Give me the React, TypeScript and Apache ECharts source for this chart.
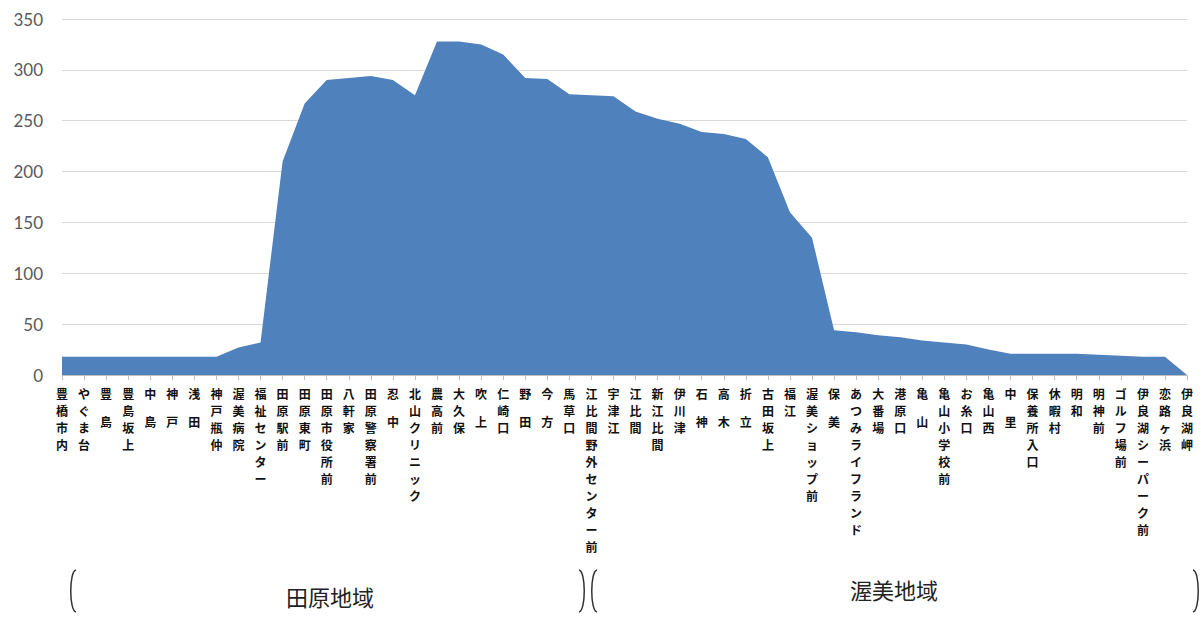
import React, { useEffect, useRef } from "react";
import * as echarts from "echarts";

const stops = [
  "豊橋市内", "やぐま台", "豊　島", "豊島坂上", "中　島", "神　戸", "浅　田", "神戸瓶仲",
  "渥美病院", "福祉センター", "田原駅前", "田原東町", "田原市役所前", "八軒家", "田原警察署前",
  "忍　中", "北山クリニック", "農高前", "大久保", "吹　上", "仁崎口", "野　田", "今　方",
  "馬草口", "江比間野外センター前", "宇津江", "江比間", "新江比間", "伊川津", "石　神",
  "高　木", "折　立", "古田坂上", "福江", "渥美ショップ前", "保　美", "あつみライフランド",
  "大番場", "港原口", "亀　山", "亀山小学校前", "お糸口", "亀山西", "中　里", "保養所入口",
  "休暇村", "明和", "明神前", "ゴルフ場前", "伊良湖シーパーク前", "恋路ヶ浜", "伊良湖岬",
];

const riders = [
  18, 18, 18, 18, 18, 18, 18, 18, 27, 32,
  210, 267, 290, 292, 294, 290, 275, 328, 328, 325,
  315, 292, 291, 276, 275, 274, 259, 252, 247, 239,
  237, 232, 214, 160, 135, 44, 42, 39, 37, 34,
  32, 30, 25, 21, 21, 21, 21, 20, 19, 18,
  18, 0,
];

const yTicks = [0, 50, 100, 150, 200, 250, 300, 350];

const regionLabels = ["田原地域", "渥美地域"];

export default function App() {
  const ref = useRef<HTMLDivElement>(null);
  useEffect(() => {
    if (!ref.current) return;
    const chart = echarts.init(ref.current, null, { renderer: "svg" });
    const bracketStyle = { stroke: "#333", lineWidth: 1.5, fill: "none" };
    const lb = (x: number) => ({
      type: "bezierCurve",
      shape: { x1: x + 6, y1: 570, cpx1: x - 1, cpy1: 571, cpx2: x - 1, cpy2: 611, x2: x + 6, y2: 612 },
      style: bracketStyle,
    });
    const rb = (x: number) => ({
      type: "bezierCurve",
      shape: { x1: x - 6, y1: 570, cpx1: x + 1, cpy1: 571, cpx2: x + 1, cpy2: 611, x2: x - 6, y2: 612 },
      style: bracketStyle,
    });
    chart.setOption({
      animation: false,
      grid: { left: 62, right: 17, top: 19, bottom: 244, containLabel: false },
      xAxis: {
        type: "category",
        data: stops,
        boundaryGap: false,
        axisLine: { show: true, lineStyle: { color: "#bfbfbf", width: 1 } },
        axisTick: { show: true, alignWithLabel: true, length: 5, lineStyle: { color: "#bfbfbf" } },
        axisLabel: {
          interval: 0,
          margin: 10,
          color: "#111",
          fontSize: 12,
          lineHeight: 17,
          fontFamily: "Noto Sans CJK JP",
          fontWeight: "bold",
          verticalAlign: "top",
          formatter: (v: string) =>
            v.split("").map((c) => (c === "　" ? "{s|　}" : c)).join("\n"),
          rich: { s: { fontSize: 8, lineHeight: 11 } },
        },
        splitLine: { show: false },
      },
      yAxis: {
        type: "value",
        min: 0,
        max: 350,
        interval: 50,
        axisLine: { show: false },
        axisTick: { show: false },
        axisLabel: {
          color: "#595959",
          fontSize: 17,
          fontFamily: "Lato, 'Noto Sans', sans-serif",
          margin: 19,
          formatter: (v: number) => (yTicks.includes(v) ? String(v) : ""),
        },
        splitLine: { lineStyle: { color: "#d9d9d9", width: 1 } },
      },
      series: [
        {
          type: "line",
          data: riders,
          symbol: "none",
          lineStyle: { width: 0 },
          areaStyle: { color: "#4f81bd", opacity: 1 },
          itemStyle: { color: "#4f81bd" },
        },
      ],
      graphic: [
        lb(70),
        rb(585),
        lb(591),
        rb(1199),
        {
          type: "text",
          x: 330,
          y: 596,
          style: {
            text: regionLabels[0],
            fontSize: 22,
            fontFamily: "Noto Sans CJK JP",
            fill: "#222",
            align: "center",
            verticalAlign: "middle",
          },
        },
        {
          type: "text",
          x: 894,
          y: 589,
          style: {
            text: regionLabels[1],
            fontSize: 22,
            fontFamily: "Noto Sans CJK JP",
            fill: "#222",
            align: "center",
            verticalAlign: "middle",
          },
        },
      ],
    });
    return () => chart.dispose();
  }, []);
  return (
    <div
      ref={ref}
      style={{ position: "fixed", left: 0, top: 0, width: 1204, height: 619, background: "#fff" }}
    />
  );
}
